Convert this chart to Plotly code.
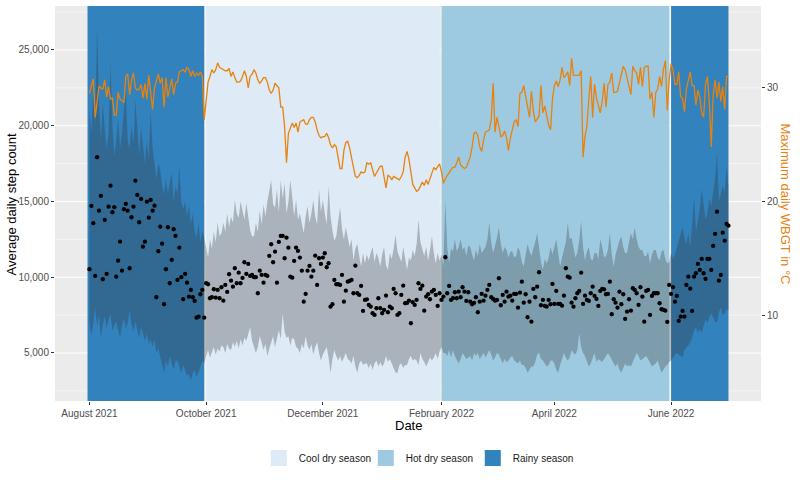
import pandas as pd
import plotly.graph_objects as go

# ---------------- data (daily, 2021-08-01 .. 2022-07-01) ----------------
start_date = "2021-08-01"

steps_mean = [
    10526, 14704, 13562, 10084, 17918, 14394, 15364, 9866, 13780, 10216,
    14658, 16044, 14288, 14618, 10038, 11094, 12348, 10434, 14486, 14836,
    14394, 10592, 13958, 14658, 16374, 15430, 13628, 15166, 12018, 12348,
    14988, 13932, 15100, 14394, 14724, 8678, 11714, 13338, 12216, 8216,
    10526, 13298, 9602, 11140, 13166, 12724, 9820, 11952, 10000, 8546,
    10216, 9642, 8718, 9160, 8678, 8434, 7332, 7398, 8874, 9160,
    7332, 9602, 9536, 8612, 8678, 9206, 8652, 9160, 8612, 9338,
    8454, 9490, 9028, 10196, 9774, 9378, 10592, 9602, 10302, 9602,
    9952, 10988, 10216, 10876, 10084, 10150, 10000, 10000, 8942, 10434,
    10150, 9642, 10150, 10084, 11404, 12176, 10988, 11688, 9642, 12328,
    12724, 12724, 11252, 12612, 11952, 10038, 9970, 11074, 11952, 11734,
    11294, 10434, 8388, 8896, 10434, 10744, 10038, 10434, 11424, 9490,
    11252, 10876, 11294, 11582, 10658, 10922, 8058, 8216, 9820, 9536,
    9536, 9490, 10150, 8388, 9114, 9708, 9750, 9820, 8942, 10764,
    8942, 8830, 9424, 7774, 8500, 8540, 8170, 8058, 7622, 7510,
    7952, 8612, 7952, 7622, 7840, 8784, 7688, 8058, 7952, 9226,
    8942, 7510, 7622, 8830, 9444, 8282, 8300, 8454, 6962, 8346,
    8170, 8500, 9602, 9226, 9444, 7794, 8718, 8874, 8544, 9048,
    9160, 8830, 8104, 8942, 8500, 8720, 11318, 8942, 9424, 8500,
    8612, 9008, 8612, 9048, 8678, 9338, 9048, 8434, 9008, 8388,
    8216, 8300, 8678, 7688, 8388, 8896, 8454, 8784, 9160, 9490,
    8678, 8566, 8454, 8500, 9932, 8150, 8830, 8388, 9048, 8718,
    8784, 8454, 8896, 8896, 7992, 8982, 9708, 8322, 8874, 7358,
    8388, 7068, 9226, 8678, 9378, 10328, 8150, 8500, 8104, 8058,
    8500, 8216, 9556, 8236, 9094, 8236, 8236, 8124, 8784, 10592,
    10038, 9972, 8322, 8058, 8612, 8942, 9094, 10302, 8236, 8784,
    8500, 8434, 8942, 9378, 8764, 8566, 8104, 9094, 9226, 9200,
    8874, 8900, 9708, 7556, 8546, 8322, 7992, 9048, 8216, 8874,
    7246, 7728, 8546, 7794, 9272, 9160, 8942, 8170, 9338, 8718,
    7068, 9094, 9160, 7510, 8764, 8942, 8942, 8942, 8282, 7886,
    7840, 7794, 7048, 9490, 8896, 9338, 8388, 8764, 7114, 7398,
    7774, 7398, 9490, 10038, 9246, 7774, 10038, 10262, 10876, 10480,
    11206, 10262, 9886, 11206, 11206, 10480, 12064, 12856, 14328, 9774,
    10150, 12942, 12414, 13516, 13400,
]

steps_upper = [
    21000, 19500, 22500, 20000, 26500, 21500, 19000, 21500, 19800, 18500,
    19500, 24100, 20000, 18000, 19000, 20500, 18500, 19500, 21000, 22200,
    19000, 18500, 20000, 18800, 21700, 19500, 18000, 19900, 18500, 17500,
    19000, 17800, 21000, 18500, 17500, 16500, 17500, 17100, 16000, 15500,
    16500, 15500, 16200, 16900, 15000, 16000, 15500, 17300, 15000, 14500,
    15000, 14000, 14800, 13500, 14200, 13000, 12600, 13600, 12300, 13000,
    12600, 12000, 11300, 12500, 11900, 13000, 12300, 13600, 12700, 12900,
    13600, 13000, 14200, 13300, 14000, 13600, 15100, 14200, 13900, 15000,
    14300, 13800, 14900, 13900, 13100, 12700, 12700, 13600, 13000, 14400,
    13500, 14800, 14000, 15000, 15800, 16400, 14800, 14600, 15800, 14300,
    16400, 15200, 16200, 14200, 15000, 16400, 15300, 14000, 15100, 13800,
    14200, 13600, 12900, 14000, 14700, 13600, 14200, 15100, 14000, 13500,
    15800, 14300, 15100, 14200, 13500, 16000, 14000, 13100, 12400, 12700,
    13500, 14600, 13200, 12500, 13300, 12500, 12000, 12500, 11100, 11900,
    12200, 11400, 10700, 11600, 10900, 11500, 11100, 11600, 12000, 11000,
    11600, 11300, 10700, 11500, 12000, 10800, 10500, 11600, 11200, 11900,
    12800, 11700, 11400, 11000, 12000, 11300, 10500, 11300, 11100, 11800,
    11400, 12200, 13800, 12300, 11800, 11400, 12000, 11100, 11800, 12700,
    11600, 10900, 11600, 11100, 11500, 10700, 15100, 12000, 10900, 11900,
    11700, 12500, 11700, 12000, 12500, 11800, 12000, 11400, 12100, 12000,
    11500, 11100, 11800, 11400, 12200, 11600, 11800, 12000, 12500, 13600,
    12300, 11600, 12100, 12600, 13300, 12200, 11600, 12000, 11800, 11300,
    11700, 11700, 11300, 11400, 12000, 11700, 11000, 10700, 11500, 12200,
    11700, 11400, 11900, 12300, 12900, 11800, 11000, 10500, 11200, 10900,
    11300, 12000, 11500, 12000, 12500, 11600, 10700, 11300, 11800, 12300,
    13600, 12500, 12600, 12000, 11300, 11600, 12400, 13700, 12000, 11100,
    11700, 12000, 11200, 11100, 11600, 11600, 11200, 12500, 12000, 11300,
    11400, 11800, 12900, 11500, 10700, 11500, 12000, 12400, 12700, 12000,
    11600, 11600, 12300, 12900, 12500, 13300, 12500, 12000, 11800, 11800,
    11400, 11400, 11700, 10900, 11500, 11800, 11800, 11300, 11100, 11700,
    11800, 11200, 10900, 11000, 11600, 11200, 11500, 12000, 12500, 12800,
    13300, 12600, 12200, 12900, 12000, 13500, 15300, 13000, 13800, 14500,
    15800, 14800, 13800, 14200, 15200, 14700, 15500, 16500, 18200, 15000,
    15500, 16000, 15600, 17300, 16000,
]

steps_lower = [
    7000, 6200, 6900, 8000, 6800, 7500, 6000, 6900, 7400, 6600,
    7200, 7600, 6500, 6800, 7100, 6500, 6000, 6800, 7300, 6600,
    7000, 7800, 6900, 6400, 7100, 6500, 6000, 6700, 6200, 5800,
    6300, 5600, 5900, 5400, 5900, 5000, 5300, 4700, 4200, 3700,
    4500, 4100, 4800, 4300, 3900, 4500, 4500, 4100, 3700, 4200,
    3800, 3500, 3600, 3200, 3700, 3900, 3400, 3700, 4100, 4500,
    4300, 4800, 5200, 4700, 5000, 5400, 4900, 5300, 5100, 5500,
    5400, 5000, 5600, 5300, 5200, 5700, 5400, 5800, 5300, 5900,
    5500, 6000, 5800, 6300, 6700, 5800, 5400, 5000, 5400, 6100,
    5700, 5200, 5600, 4800, 5300, 5700, 6100, 5400, 6000, 6500,
    5900, 7600, 6400, 6000, 6100, 5500, 6000, 5900, 5400, 5300,
    5000, 5600, 5300, 6100, 5500, 5200, 5600, 4900, 5400, 5700,
    5000, 4500, 4900, 5200, 5400, 4700, 3700, 4600, 5200, 4800,
    4500, 4800, 4400, 4700, 5000, 4600, 4500, 4300, 4800, 4100,
    3700, 4300, 4500, 4200, 4300, 4300, 4000, 4300, 3900, 4300,
    4500, 4100, 4400, 4100, 4300, 4800, 4400, 4600, 4300, 4000,
    3700, 3700, 4200, 4300, 4000, 4200, 4200, 4600, 4800, 4500,
    4600, 4500, 4200, 5000, 4600, 4400, 4100, 4400, 4700, 4500,
    4700, 5000, 4600, 5100, 5400, 5000, 5000, 4800, 5200, 4700,
    5200, 4800, 4500, 4300, 4600, 5000, 4800, 4600, 4700, 4800,
    4500, 5000, 4800, 5000, 4600, 4800, 5000, 4700, 5000, 5200,
    4900, 4500, 4700, 5000, 4900, 4600, 4300, 4600, 4400, 4500,
    4700, 4800, 4500, 4400, 4300, 4500, 4200, 4200, 4000, 3700,
    3900, 4100, 4100, 4400, 4900, 5000, 4600, 4500, 4300, 4100,
    4200, 4500, 4500, 4300, 3900, 3700, 4200, 4600, 5000, 4700,
    4500, 4700, 5200, 5000, 4900, 5200, 6300, 5400, 5000, 4800,
    4500, 4100, 4300, 4700, 5000, 4400, 4600, 4500, 4400, 4600,
    4800, 5000, 4800, 4500, 4300, 4100, 4300, 3900, 3700, 4000,
    4300, 4100, 4200, 4100, 4400, 4700, 5000, 4800, 4500, 4600,
    4700, 4800, 4600, 4300, 4100, 4200, 4300, 4500, 4000, 3700,
    3900, 4100, 4200, 4400, 4500, 4700, 4900, 5000, 4900, 4800,
    4700, 5200, 5400, 5500, 5700, 6000, 6500, 6700, 6300, 6600,
    6300, 6800, 7200, 7000, 7400, 7600, 7300, 7100, 7000, 7700,
    8000, 7500, 7600, 7900, 7800,
]

wbgt_max = [
    29.5, 30.2, 30.8, 27.4, 29.0, 30.1, 30.0, 29.9, 30.7, 29.2,
    30.1, 29.0, 29.1, 27.6, 27.6, 29.6, 29.0, 28.8, 28.7, 31.0,
    31.2, 29.4, 30.7, 31.3, 30.0, 29.8, 29.9, 30.3, 29.1, 30.4,
    29.0, 31.1, 29.8, 28.1, 30.0, 30.7, 31.2, 30.4, 30.9, 28.3,
    30.9, 29.2, 30.0, 30.8, 29.4, 30.4, 30.5, 31.4, 31.5, 31.6,
    31.4, 31.8, 31.6, 31.0, 31.5, 31.0, 31.3, 31.1, 31.4, 31.0,
    27.2, 29.1, 30.5, 31.0, 31.6, 31.3, 31.6, 32.2, 31.8, 31.7,
    31.6, 31.5, 31.5, 31.7, 31.0, 31.4, 30.9, 30.5, 30.5, 30.6,
    31.0, 31.5, 31.0, 30.0, 31.0, 31.2, 31.6, 31.3, 30.7, 30.4,
    30.6, 30.9, 30.9, 30.5, 29.8, 29.5, 29.8, 30.4, 30.2, 30.0,
    28.3, 28.3, 26.6, 23.4, 26.0, 26.5, 26.9, 26.5, 26.9, 26.1,
    27.0, 27.1, 27.2, 26.8, 26.8, 27.2, 27.4, 27.4, 27.0, 26.3,
    25.8, 25.6, 25.7, 25.7, 26.0, 25.6, 25.0, 24.7, 25.0, 24.8,
    23.7, 22.9, 22.9, 24.5, 25.2, 25.3, 24.7, 23.7, 23.0, 22.2,
    22.1, 22.3, 22.6, 22.5, 22.6, 23.4, 23.3, 23.4, 22.9, 22.2,
    22.5, 22.8, 23.1, 23.1, 22.3, 21.2, 22.3, 22.2, 21.9, 22.2,
    22.1, 22.0, 21.9, 22.2, 22.6, 23.9, 24.4, 23.7, 22.5, 21.5,
    21.2, 20.9, 21.0, 21.3, 21.7, 21.4, 21.9, 21.5, 22.0, 22.4,
    23.0, 22.8, 23.0, 23.3, 22.6, 21.6, 22.0, 22.3, 22.5, 22.8,
    23.0, 23.0, 23.4, 23.9, 23.2, 23.0, 22.9, 23.0, 23.4, 23.9,
    24.8, 26.0, 26.1, 25.8, 24.8, 24.4, 25.4, 26.1, 26.2, 26.3,
    27.2, 30.4, 26.1, 27.4, 26.6, 25.7, 25.8, 26.2, 25.6, 24.5,
    25.6, 26.4, 27.0, 27.2, 26.6, 29.5, 29.6, 30.2, 29.2, 28.3,
    27.4, 29.7, 28.0, 27.0, 27.3, 27.5, 30.2, 27.8, 28.4, 27.4,
    26.7, 26.3, 29.0, 30.2, 30.6, 30.1, 30.7, 31.8, 30.9, 31.1,
    31.4, 30.2, 32.6, 31.1, 31.1, 31.1, 31.1, 31.5, 23.9, 25.7,
    26.6, 29.0, 31.0, 27.4, 30.3, 29.1, 28.3, 27.8, 28.8, 30.4,
    28.3, 30.3, 30.5, 31.3, 29.6, 29.6, 29.7, 30.5, 31.3, 31.9,
    31.6, 30.8, 30.3, 29.4, 31.9, 31.5, 31.3, 30.3, 31.8, 30.1,
    31.8, 31.9, 31.9, 29.0, 29.6, 27.4, 29.6, 29.9, 31.0, 30.1,
    31.6, 32.4, 28.0, 30.7, 32.1, 31.6, 30.3, 30.3, 31.4, 29.2,
    29.1, 27.9, 29.9, 30.7, 31.4, 30.2, 30.2, 28.5, 29.8, 29.2,
    27.8, 27.4, 30.3, 31.0, 28.7, 24.8, 29.4, 30.7, 29.1, 30.5,
    28.8, 30.1, 28.1, 31.0, 31.0,
]

season_names = ["Rainy season", "Cool dry season", "Hot dry season", "Rainy season"]
season_start = ["2021-07-31", "2021-10-01", "2022-02-01", "2022-06-01"]
season_end = ["2021-09-30", "2022-01-31", "2022-05-31", "2022-07-01"]
legend_order = ["Cool dry season", "Hot dry season", "Rainy season"]
season_colors = {"Cool dry season": "#DEEBF7", "Hot dry season": "#9ECAE1", "Rainy season": "#3182BD"}

x_ticks = ["2021-08-01", "2021-10-01", "2021-12-01", "2022-02-01", "2022-04-01", "2022-06-01"]
x_tick_labels = ["August 2021", "October 2021", "December 2021", "February 2022", "April 2022", "June 2022"]
y_ticks = [5000, 10000, 15000, 20000, 25000]
y_tick_labels = ["5,000", "10,000", "15,000", "20,000", "25,000"]
y_minor_ticks = [2500, 7500, 12500, 17500, 22500, 27500]
y2_ticks = [10, 20, 30]
scale_factor = 750  # steps per degree C for the secondary axis

lens = [len(steps_mean), len(steps_upper), len(steps_lower), len(wbgt_max)]
assert len(set(lens)) == 1, lens

dates = pd.date_range(start_date, periods=len(steps_mean), freq="D")

y_range = [1830, 27900]
x_range = ["2021-07-14", "2022-07-18"]
orange = "#E8820E"

fig = go.Figure()

# ribbon
fig.add_trace(go.Scatter(x=dates, y=steps_lower, mode="lines", line=dict(width=0),
                         showlegend=False, hoverinfo="skip"))
fig.add_trace(go.Scatter(x=dates, y=steps_upper, mode="lines", line=dict(width=0),
                         fill="tonexty", fillcolor="rgba(51,51,51,0.30)",
                         showlegend=False, hoverinfo="skip"))
# points
fig.add_trace(go.Scatter(x=dates, y=steps_mean, mode="markers",
                         marker=dict(size=4.3, color="black"), showlegend=False))
# WBGT line
fig.add_trace(go.Scatter(x=dates, y=wbgt_max, mode="lines", yaxis="y2",
                         line=dict(color=orange, width=1.3), showlegend=False))

# legend entries
for name in legend_order:
    fig.add_trace(go.Scatter(x=[None], y=[None], mode="markers", name=name,
                             marker=dict(symbol="square", size=16, color=season_colors[name])))

# gridlines drawn below the season rectangles (as in ggplot)
shapes = []
for v in y_minor_ticks:
    shapes.append(dict(type="line", xref="paper", yref="y", x0=0, x1=1, y0=v, y1=v,
                       line=dict(color="white", width=0.5), layer="below"))
for v in y_ticks:
    shapes.append(dict(type="line", xref="paper", yref="y", x0=0, x1=1, y0=v, y1=v,
                       line=dict(color="white", width=1.1), layer="below"))
for v in x_ticks:
    shapes.append(dict(type="line", xref="x", yref="paper", x0=v, x1=v, y0=0, y1=1,
                       line=dict(color="white", width=1.1), layer="below"))
for nm, s, e in zip(season_names, season_start, season_end):
    shapes.append(dict(type="rect", xref="x", yref="paper", x0=s, x1=e, y0=0, y1=1,
                       fillcolor=season_colors[nm], line=dict(width=0), layer="below"))

axis_common = dict(showgrid=False, zeroline=False, ticks="outside", ticklen=3,
                   tickcolor="#333333", automargin=False,
                   tickfont=dict(size=10, color="#4D4D4D"))

fig.update_layout(
    width=800, height=480,
    margin=dict(l=55, r=39, t=6, b=79),
    paper_bgcolor="white", plot_bgcolor="#EBEBEB",
    font=dict(family="Liberation Sans, Arial, sans-serif", size=10, color="#4D4D4D"),
    shapes=shapes,
    xaxis=dict(type="date", range=x_range, tickvals=x_ticks, ticktext=x_tick_labels,
               **axis_common),
    yaxis=dict(range=y_range, tickvals=y_ticks, ticktext=y_tick_labels, **axis_common),
    yaxis2=dict(overlaying="y", side="right",
                range=[y_range[0] / scale_factor, y_range[1] / scale_factor],
                tickvals=y2_ticks, **axis_common),
    legend=dict(orientation="h", x=0.516, xanchor="center", y=-0.144, yanchor="middle",
                traceorder="normal", entrywidth=62, entrywidthmode="pixels",
                font=dict(size=10, color="#1A1A1A"), bgcolor="rgba(0,0,0,0)"),
    annotations=[
        dict(text="Date", xref="paper", yref="paper", x=0.5, y=-0.061,
             showarrow=False, font=dict(size=13, color="black"), xanchor="center", yanchor="middle"),
        dict(text="Average daily step count", xref="paper", yref="paper", x=-0.061, y=0.5,
             showarrow=False, textangle=-90, font=dict(size=13, color="black"),
             xanchor="center", yanchor="middle"),
        dict(text="Maximum daily WBGT in °C", xref="paper", yref="paper", x=1.034, y=0.5,
             showarrow=False, textangle=90, font=dict(size=13, color=orange),
             xanchor="center", yanchor="middle"),
    ],
)

fig.write_html("out.html", config={"displayModeBar": False},
               post_script="document.body.style.margin='0px';")
